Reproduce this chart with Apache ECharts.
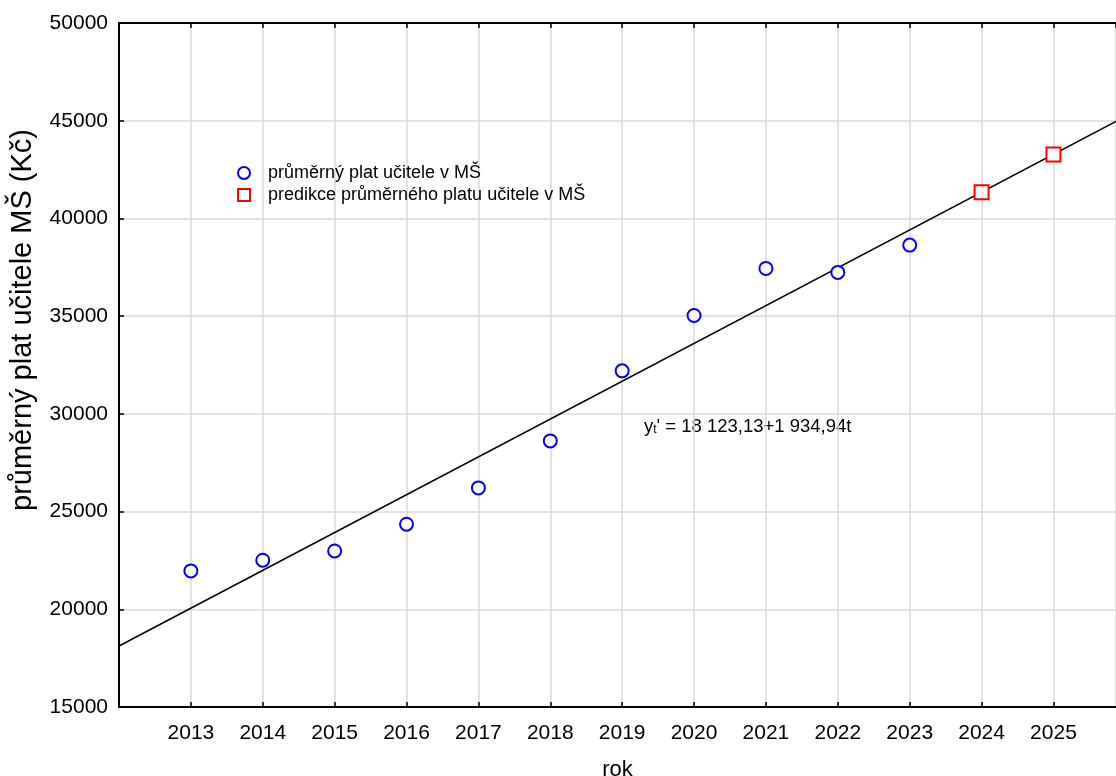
<!DOCTYPE html>
<html>
<head>
<meta charset="utf-8">
<script src="https://cdn.jsdelivr.net/npm/echarts@6/dist/echarts.min.js"></script>
<style>
html,body{margin:0;padding:0;background:#fff;}
#chart{width:1116px;height:776px;}
</style>
</head>
<body>
<div id="chart"></div>
<script>
// ---- data ----
var years = [2013, 2014, 2015, 2016, 2017, 2018, 2019, 2020, 2021, 2022, 2023];
var salaries = [21963, 22510, 22986, 24353, 26211, 28617, 32201, 35036, 37443, 37238, 38635];
var predYears = [2024, 2025];
var predSalaries = [41342, 43277];
var trendCoef = [18123.13, 1934.94]; // intercept, slope (t = year - 2012)
var trendBaseYear = [2012];
var xRange = [2012, 2025.87];
var yTicks = [15000, 20000, 25000, 30000, 35000, 40000, 45000, 50000];
var seriesNames = ['průměrný plat učitele v MŠ', 'predikce průměrného platu učitele v MŠ'];
var axisNames = ['rok', 'průměrný plat učitele MŠ (Kč)'];
var equationParts = ['y', 't', "' = 18 123,13+1 934,94t"];

// ---- build ----
var obs = years.map(function (y, i) { return [y, salaries[i]]; });
var pred = predYears.map(function (y, i) { return [y, predSalaries[i]]; });
var trend = xRange.map(function (x) { return [x, trendCoef[0] + trendCoef[1] * (x - trendBaseYear[0])]; });

var FONT = '"Liberation Sans", Arial, sans-serif';
var chart = echarts.init(document.getElementById('chart'), null, { renderer: 'canvas' });
chart.setOption({
  animation: false,
  backgroundColor: '#fff',
  textStyle: { fontFamily: FONT },
  grid: { left: 119, top: 23, right: 0, bottom: 69, containLabel: false, outerBoundsMode: 'none' },
  legend: {
    orient: 'vertical',
    left: 232, top: 159,
    itemWidth: 12, itemHeight: 12, itemGap: 4,
    textStyle: { fontFamily: FONT, fontSize: 18, color: '#000', lineHeight: 18, padding: [0, 0, 0, 13] },
    data: [{ name: seriesNames[0] }, { name: seriesNames[1] }]
  },
  xAxis: [{
    type: 'value', min: xRange[0], max: xRange[1], interval: 1,
    name: axisNames[0], nameLocation: 'middle', nameGap: 52,
    nameTextStyle: { fontFamily: FONT, fontSize: 22, color: '#000' },
    axisLine: { lineStyle: { color: '#000', width: 2 } },
    axisTick: { inside: true, length: 5, lineStyle: { color: '#000', width: 1.5 } },
    axisLabel: {
      fontFamily: FONT, fontSize: 21, color: '#000', margin: 16,
      showMinLabel: false, showMaxLabel: false,
      formatter: function (v) { return (v > xRange[0] && Math.abs(v - Math.round(v)) < 1e-6) ? String(Math.round(v)) : ''; }
    },
    splitLine: { show: true, lineStyle: { color: '#d9d9d9', width: 1.5 } }
  }, {
    type: 'value', position: 'top', min: xRange[0], max: xRange[1], interval: 1,
    axisLine: { show: true, lineStyle: { color: '#000', width: 2 } },
    axisTick: { show: true, inside: true, length: 5, lineStyle: { color: '#000', width: 1.5 } },
    axisLabel: { show: false },
    splitLine: { show: false }
  }],
  yAxis: {
    type: 'value', min: yTicks[0], max: yTicks[yTicks.length - 1], interval: 5000,
    name: axisNames[1], nameLocation: 'middle', nameGap: 82, nameRotate: 90,
    nameTextStyle: { fontFamily: FONT, fontSize: 29, color: '#000', padding: [0, 0, 0, 90] },
    axisLine: { show: true, lineStyle: { color: '#000', width: 2 } },
    axisTick: { show: true, inside: true, length: 5, lineStyle: { color: '#000', width: 1.5 } },
    axisLabel: { fontFamily: FONT, fontSize: 21, color: '#000', margin: 11, formatter: function (v) { return String(v); } },
    splitLine: { show: true, lineStyle: { color: '#d9d9d9', width: 1.5 } }
  },
  series: [{
    type: 'line', data: trend, symbol: 'none', silent: true,
    lineStyle: { color: '#000', width: 1.5 }, z: 2
  }, {
    name: seriesNames[0], type: 'scatter', data: obs,
    symbol: 'emptyCircle', symbolSize: 13,
    itemStyle: { color: '#0000ff', borderColor: '#0000ff', borderWidth: 2, opacity: 1 }, z: 3
  }, {
    name: seriesNames[1], type: 'scatter', data: pred,
    symbol: 'emptyRect', symbolSize: 14,
    itemStyle: { color: '#ff0000', borderColor: '#ff0000', borderWidth: 2, opacity: 1 }, z: 3
  }],
  graphic: [{
    type: 'text', left: 644, top: 417,
    style: {
      text: '{a|' + equationParts[0] + '}{s|' + equationParts[1] + '}{a|' + equationParts[2] + '}',
      rich: {
        a: { fontFamily: FONT, fontSize: 18.5, fill: '#000', verticalAlign: 'bottom' },
        s: { fontFamily: FONT, fontSize: 12, fill: '#000', padding: [6, 0, 0, 0], verticalAlign: 'bottom' }
      }
    }
  }]
});
</script>
</body>
</html>
